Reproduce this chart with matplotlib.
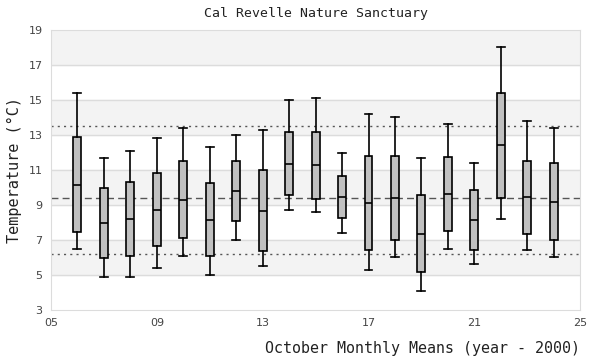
import matplotlib
matplotlib.use("Agg")
import matplotlib.pyplot as plt

# October monthly means, box statistics per year (year - 2000)
years = [6, 7, 8, 9, 10, 11, 12, 13, 14, 15, 16, 17, 18, 19, 20, 21, 22, 23, 24]
whislo = [6.47, 4.87, 4.87, 5.38, 6.07, 4.98, 6.98, 5.50, 8.70, 8.58, 7.38, 5.27, 6.01, 4.07, 6.47, 5.61, 8.18, 6.41, 6.01]
q1 = [7.44, 5.95, 6.07, 6.64, 7.10, 6.07, 8.07, 6.35, 9.55, 9.32, 8.24, 6.41, 6.98, 5.15, 7.50, 6.41, 9.38, 7.32, 6.98]
med = [10.12, 7.95, 8.18, 8.70, 9.27, 8.12, 9.78, 8.64, 11.32, 11.27, 9.44, 9.10, 9.38, 7.32, 9.61, 8.12, 12.41, 9.44, 9.15]
q3 = [12.87, 9.95, 10.30, 10.81, 11.50, 10.24, 11.50, 10.98, 13.15, 13.15, 10.64, 11.78, 11.78, 9.55, 11.72, 9.84, 15.38, 11.50, 11.38]
whishi = [15.38, 11.67, 12.07, 12.81, 13.38, 12.30, 12.98, 13.27, 14.98, 15.10, 11.99, 14.18, 14.01, 11.67, 13.61, 11.38, 18.01, 13.78, 13.38]

overall_mean = 9.38
upper_sd = 13.50
lower_sd = 6.18

fig = plt.figure(figsize=(6, 3.6), dpi=100)
ax = fig.add_axes([0.085, 0.139, 0.882, 0.778])

# alternating horizontal bands
for lo in range(5, 19, 4):
    ax.axhspan(lo, lo + 2, color='#f3f3f3', zorder=0)
for y in range(5, 19, 2):
    ax.axhline(y, color='#dcdcdc', linewidth=1, zorder=0.5)

ax.axhline(upper_sd, color='#555555', linestyle=(0, (1.5, 3)), linewidth=1, zorder=1)
ax.axhline(lower_sd, color='#555555', linestyle=(0, (1.5, 3)), linewidth=1, zorder=1)
ax.axhline(overall_mean, color='#555555', linestyle=(0, (5, 3)), linewidth=1, zorder=1)

stats = []
for i in range(len(years)):
    stats.append({'whislo': whislo[i], 'q1': q1[i], 'med': med[i],
                  'q3': q3[i], 'whishi': whishi[i], 'fliers': []})

ax.bxp(stats, positions=years, widths=0.3, patch_artist=True,
       showfliers=False, manage_ticks=False,
       boxprops=dict(facecolor='#c0c0c0', edgecolor='black', linewidth=1.2),
       medianprops=dict(color='black', linewidth=1.2),
       whiskerprops=dict(color='black', linewidth=1.2),
       capprops=dict(color='black', linewidth=1.2),
       capwidths=0.3, zorder=3)

ax.set_xlim(5, 25)
ax.set_ylim(3, 19)
ax.set_xticks([5, 9, 13, 17, 21, 25])
ax.set_xticklabels(['05', '09', '13', '17', '21', '25'])
ax.set_yticks(range(3, 20, 2))
ax.tick_params(length=0, labelsize=8, colors='#444444', pad=6)

for spine in ax.spines.values():
    spine.set_color('#dcdcdc')

ax.set_title('Cal Revelle Nature Sanctuary', family='DejaVu Sans Mono',
             fontsize=9.5, color='#222222', pad=9)
ax.set_ylabel('Temperature (°C)', family='DejaVu Sans Mono', fontsize=11,
              color='#222222', labelpad=5)
ax.set_xlabel('October Monthly Means (year - 2000)', family='DejaVu Sans Mono',
              fontsize=10.8, color='#222222', loc='right', labelpad=9)

fig.savefig('out.png', dpi=100, facecolor='white')
